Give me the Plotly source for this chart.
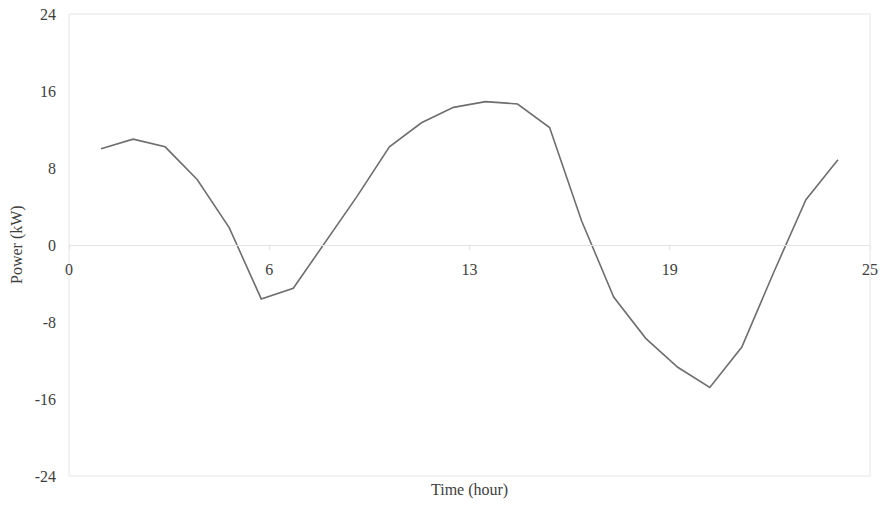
import plotly.graph_objects as go

hours = list(range(1, 25))
power = [10.0, 11.0, 10.2, 6.8, 1.8, -5.6, -4.5, 0.3, 5.1, 10.2, 12.7, 14.3,
         14.9, 14.65, 12.2, 2.5, -5.4, -9.7, -12.7, -14.8, -10.6, -2.8, 4.7, 8.85]

x_tickvals = [0, 6.25, 12.5, 18.75, 25]
x_ticktext = ["0", "6", "13", "19", "25"]
y_tickvals = [-24, -16, -8, 0, 8, 16, 24]
y_ticktext = ["-24", "-16", "-8", "0", "8", "16", "24"]

font = dict(family="Liberation Serif, Times New Roman, serif", size=16, color="#404040")

fig = go.Figure()
fig.add_trace(go.Scatter(x=hours, y=power, mode="lines",
                         line=dict(color="#6e6e6e", width=1.6),
                         showlegend=False, hoverinfo="skip"))

fig.update_layout(
    width=882, height=505,
    margin=dict(l=69, r=12, t=14, b=29),
    paper_bgcolor="white", plot_bgcolor="white",
    font=font,
    xaxis=dict(range=[0, 25], tickvals=x_tickvals, ticktext=x_ticktext,
               showgrid=False, zeroline=False, automargin=False,
               anchor="free", position=0.5, ticklabeloverflow="allow",
               showline=True, linecolor="#e4e4e4", linewidth=1,
               ticks="outside", ticklen=4, tickcolor="#e4e4e4",
               tickfont=font, ticklabelstandoff=6),
    yaxis=dict(range=[-24, 24], tickvals=y_tickvals, ticktext=y_ticktext,
               showgrid=False, zeroline=False, automargin=False,
               showline=False, ticks="", tickfont=font,
               ticklabeloverflow="allow", ticklabelstandoff=12),
    shapes=[dict(type="rect", xref="paper", yref="paper", x0=0, x1=1, y0=0, y1=1,
                 line=dict(color="#e6e6e6", width=1), layer="below")],
    annotations=[
        dict(text="Time (hour)", xref="paper", yref="paper",
             x=0.5, y=0, yshift=-14, xanchor="center", yanchor="middle",
             showarrow=False, font=font),
        dict(text="Power (kW)", xref="paper", yref="paper", textangle=-90,
             x=0, y=0.5, xshift=-52, xanchor="center", yanchor="middle",
             showarrow=False, font=font),
    ],
)

fig.write_html("out.html", config={"displayModeBar": False},
               post_script="document.body.style.margin='0';document.body.style.overflow='hidden';")
